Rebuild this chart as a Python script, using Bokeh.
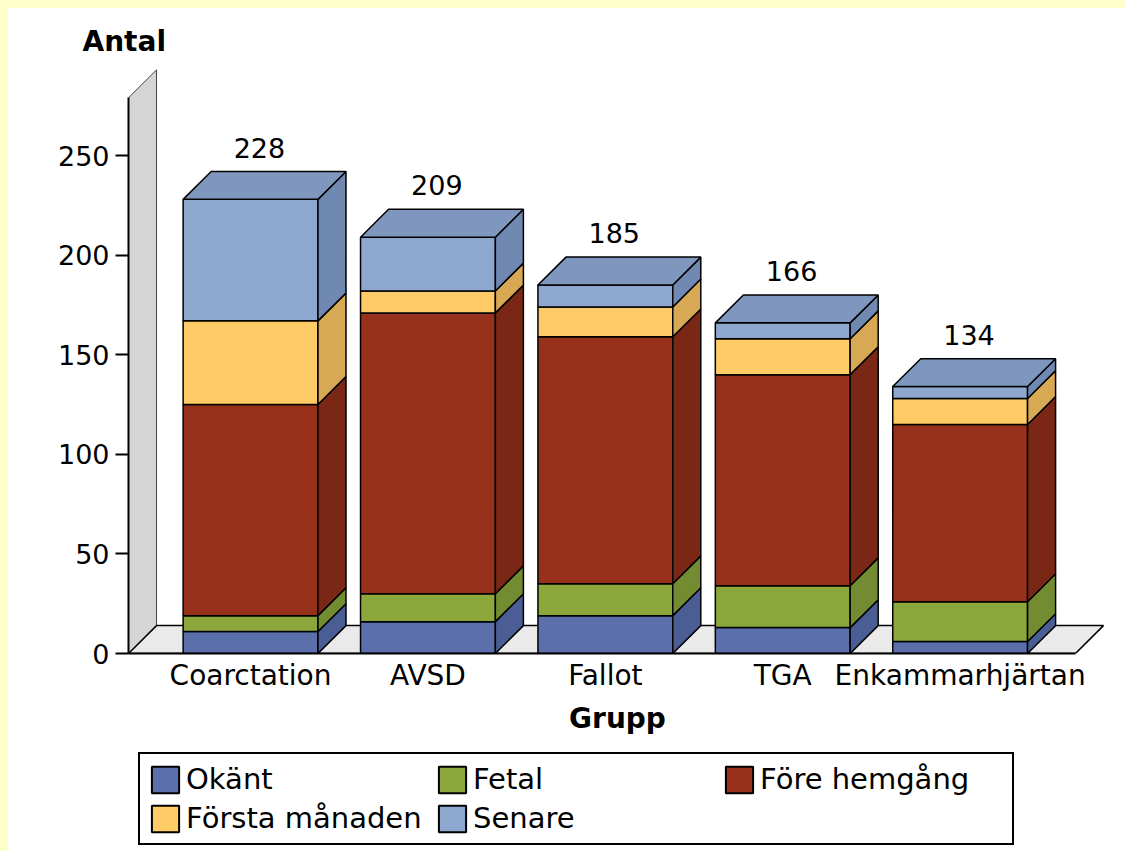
import numpy as np
from bokeh.plotting import figure
from bokeh.layouts import column
from bokeh.models import (ColumnDataSource, Legend, LegendItem, FixedTicker,
                          Range1d)
from bokeh.core.properties import value
from bokeh.embed import file_html
from bokeh.resources import INLINE

# ---------------- data ----------------
categories = ["Coarctation", "AVSD", "Fallot", "TGA", "Enkammarhjärtan"]
series_names = ["Okänt", "Fetal", "Före hemgång", "Första månaden", "Senare"]
okant = [11, 16, 19, 13, 6]
fetal = [8, 14, 16, 21, 20]
fore_hemgang = [106, 141, 124, 106, 89]
forsta_manaden = [42, 11, 15, 18, 13]
senare = [61, 27, 11, 8, 6]
y_ticks = [0, 50, 100, 150, 200, 250]

# ---------------- style ----------------
front_colors = ["#5B70AA", "#8CA83D", "#98311C", "#FFCB66", "#8DA7CF"]
side_colors = ["#4A5D94", "#738C32", "#7B2715", "#D8A955", "#7089B3"]
top_color = "#7F97BF"
FONT = "DejaVu Sans"
BAR_W = 0.76      # bar width (category units)
DX = 0.158        # 3D depth, x
DY = 14.0         # 3D depth, y
X0, X1 = -0.688, 4.825
FLOOR_END = 4.65
WALL_TOP = 279
STRIP = "linear-gradient(#FFFFCC, #FFFFCC)"
MAIN_STYLES = {
    "background-color": "#FFFFFF",
    "background-image": f"{STRIP}, {STRIP}",
    "background-size": "8px 100%, 100% 8px",
    "background-position": "left top, left top",
    "background-repeat": "no-repeat, no-repeat",
}
LEG_STYLES = {
    "background-color": "#FFFFFF",
    "background-image": STRIP,
    "background-size": "8px 100%",
    "background-position": "left top",
    "background-repeat": "no-repeat",
}

stack = np.array([okant, fetal, fore_hemgang, forsta_manaden, senare], dtype=float)
tops = np.cumsum(stack, axis=0)
bottoms = tops - stack
totals = tops[-1]
xs_cat = np.arange(len(categories), dtype=float)

p = figure(width=1126, height=745,
           x_range=Range1d(X0, X1), y_range=Range1d(0, 294.7),
           output_backend="svg", toolbar_location=None,
           min_border_left=128, min_border_right=20, min_border_top=66,
           min_border_bottom=92,
           background_fill_color="white", border_fill_color=None,
           outline_line_color=None, title="Antal", styles=MAIN_STYLES)
p.grid.visible = False
p.title.align = "left"
p.title.offset = -46
p.title.standoff = 17
p.title.text_font = FONT
p.title.text_font_size = "28px"
p.title.text_font_style = "bold"
p.title.text_color = "black"

# wall and floor
p.patch(x=[X0, X0, X0 + DX, X0 + DX], y=[0, WALL_TOP, WALL_TOP + DY, DY],
        fill_color="#D5D5D5", line_color="#444444", line_width=1)
p.patch(x=[X0, FLOOR_END, FLOOR_END + DX, X0 + DX], y=[0, 0, DY, DY],
        fill_color="#EAEAEA", line_color="black", line_width=1.5)

for j, name in enumerate(series_names):
    src = ColumnDataSource(dict(x=xs_cat, bottom=bottoms[j], top=tops[j]))
    p.vbar(x="x", width=BAR_W, bottom="bottom", top="top", source=src,
           fill_color=front_colors[j], line_color="black", line_width=1.5)
    sx = [[xi + BAR_W / 2, xi + BAR_W / 2 + DX, xi + BAR_W / 2 + DX, xi + BAR_W / 2]
          for xi in xs_cat]
    sy = [[b, b + DY, t + DY, t] for b, t in zip(bottoms[j], tops[j])]
    p.patches(xs=sx, ys=sy, fill_color=side_colors[j], line_color="black",
              line_width=1.5)

# top faces
tx = [[xi - BAR_W / 2, xi - BAR_W / 2 + DX, xi + BAR_W / 2 + DX, xi + BAR_W / 2]
      for xi in xs_cat]
ty = [[t, t + DY, t + DY, t] for t in totals]
p.patches(xs=tx, ys=ty, fill_color=top_color, line_color="black", line_width=1.5)

# total labels
lab_src = ColumnDataSource(dict(x=xs_cat + 0.05, y=totals + DY + 12,
                                t=[str(int(v)) for v in totals]))
p.text(x="x", y="y", text="t", source=lab_src, text_align="center",
       text_baseline="middle", text_font=value(FONT), text_font_size="27px",
       text_color="black")

# axes
ya = p.yaxis[0]
ya.ticker = FixedTicker(ticks=y_ticks)
ya.bounds = (0, WALL_TOP)
ya.axis_line_width = 2
ya.axis_line_color = "black"
ya.major_tick_out = 13
ya.major_tick_in = 0
ya.major_tick_line_width = 2
ya.minor_tick_line_color = None
ya.major_label_standoff = 6
ya.major_label_text_font = FONT
ya.major_label_text_font_size = "27px"
ya.major_label_text_color = "black"

xa = p.xaxis[0]
xa.ticker = FixedTicker(ticks=list(range(len(categories))))
xa.major_label_overrides = {i: c for i, c in enumerate(categories)}
xa.bounds = (X0, FLOOR_END)
xa.axis_line_width = 2
xa.axis_line_color = "black"
xa.major_tick_line_color = None
xa.major_tick_out = 0
xa.major_tick_in = 0
xa.minor_tick_line_color = None
xa.major_label_standoff = 5
xa.major_label_text_font = FONT
xa.major_label_text_font_size = "28px"
xa.major_label_text_color = "black"
xa.axis_label = "Grupp"
xa.axis_label_text_font = FONT
xa.axis_label_text_font_style = "bold"
xa.axis_label_text_font_size = "28px"
xa.axis_label_text_color = "black"
xa.axis_label_standoff = 7

# ---------------- legend strip ----------------
# (its frame is aligned with the main frame by the column layout)
pl = figure(width=1126, height=106, x_range=Range1d(X0, X1), y_range=Range1d(0, 1),
            output_backend="svg", toolbar_location=None, min_border=0,
            background_fill_color=None, border_fill_color=None,
            outline_line_color=None, styles=LEG_STYLES)
pl.axis.visible = False
pl.grid.visible = False
swatches = []
for j, name in enumerate(series_names):
    src = ColumnDataSource(dict(x=xs_cat, bottom=bottoms[j], top=tops[j]))
    r = pl.vbar(x="x", width=BAR_W, bottom="bottom", top="top", source=src,
                fill_color=front_colors[j], line_color="black", line_width=2)
    r.visible = False   # only its legend swatch is shown
    swatches.append(r)
legend = Legend(items=[LegendItem(label=n, renderers=[r])
                       for n, r in zip(series_names, swatches)],
                orientation="horizontal", ncols=3, location=(10, 6),
                border_line_color="black", border_line_width=2,
                border_line_alpha=1,
                background_fill_color="white", background_fill_alpha=1,
                padding=8, spacing=5, glyph_width=34, glyph_height=33,
                label_standoff=4, label_width=244,
                label_text_font=FONT, label_text_font_size="29px",
                label_text_color="black", label_text_baseline="middle")
pl.add_layout(legend, "center")

layout = column(p, pl, spacing=0)

open("out.html", "w").write(file_html(layout, INLINE))
